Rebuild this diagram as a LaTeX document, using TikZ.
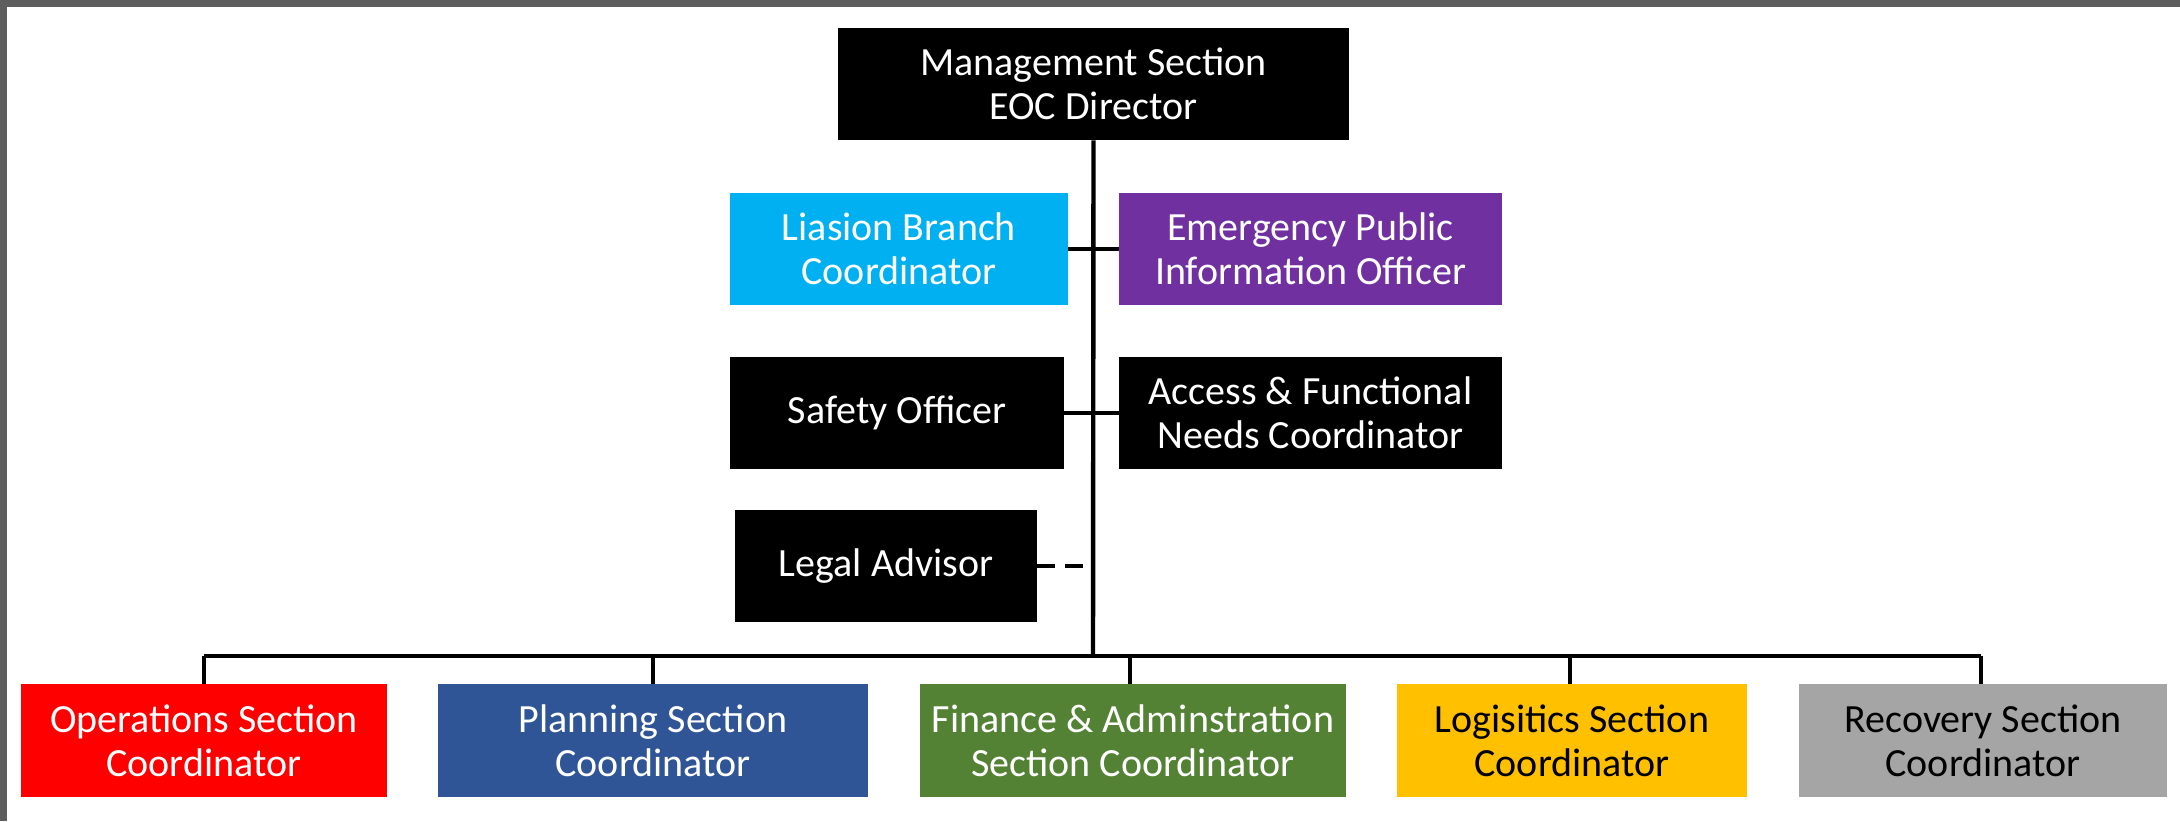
\documentclass[tikz,border=0pt]{standalone}
\usepackage{fontspec}
\setmainfont{Carlito}
\definecolor{frameg}{HTML}{5E5E5E}
\definecolor{cyanb}{HTML}{00B0F0}
\definecolor{purpb}{HTML}{7030A0}
\definecolor{redb}{HTML}{FF0000}
\definecolor{blueb}{HTML}{2F5597}
\definecolor{greenb}{HTML}{548235}
\definecolor{goldb}{HTML}{FFC000}
\definecolor{grayb}{HTML}{A5A5A5}
\tikzset{
  box/.style={rectangle, inner sep=0pt, align=center, text=white,
    font=\fontsize{20pt}{22pt}\selectfont, minimum height=56pt},
  link/.style={line width=1.8pt, black},
  trunk/.style={line width=2.2pt, black},
}
\begin{document}
\begin{tikzpicture}[x=0.5pt,y=-0.5pt]
\useasboundingbox (0,0) rectangle (2180,821);
\fill[white] (0,0) rectangle (2180,821);
\fill[frameg] (0,0) rectangle (2180,7);
\fill[frameg] (0,0) rectangle (7,821);

\node[box, fill=black, minimum width=255.5pt] (mgmt) at (1093.5,84) {Management Section\\EOC Director};
\node[box, fill=cyanb, minimum width=169pt] (liaison) at (899,249) {Liasion Branch\\Coordinator};
\node[box, fill=purpb, minimum width=191.5pt] (epio) at (1310.5,249) {Emergency Public\\Information Officer};
\node[box, fill=black, minimum width=167pt] (safety) at (897,413) {Safety Officer};
\node[box, fill=black, minimum width=191.5pt] (access) at (1310.5,413) {Access \& Functional\\Needs Coordinator};
\node[box, fill=black, minimum width=151pt] (legal) at (886,566) {Legal Advisor};

\node[box, fill=redb, minimum width=183pt, minimum height=56.5pt] (ops) at (204,740.5) {Operations Section\\Coordinator};
\node[box, fill=blueb, minimum width=215pt, minimum height=56.5pt] (plan) at (653,740.5) {Planning Section\\Coordinator};
\node[box, fill=greenb, minimum width=213pt, minimum height=56.5pt] (fin) at (1133,740.5) {Finance \& Adminstration\\Section Coordinator};
\node[box, fill=goldb, text=black, minimum width=175pt, minimum height=56.5pt] (log) at (1572,740.5) {Logisitics Section\\Coordinator};
\node[box, fill=grayb, text=black, minimum width=184pt, minimum height=56.5pt] (rec) at (1983,740.5) {Recovery Section\\Coordinator};

\coordinate (busL) at (204,656);
\coordinate (busR) at (1981,656);
\coordinate (busM) at (1093,656);
\coordinate (legalJ) at (1093,566);

\draw[trunk] (mgmt.south) -- (busM);
\draw[link] (liaison.east) -- (epio.west);
\draw[link] (safety.east) -- (access.west);
\draw[link, dash pattern=on 9pt off 5pt] (legal.east) -- (legalJ);
\draw[trunk] (busL) -- (busR);
\draw[link] (busL) -- (ops.north);
\draw[link] (plan.north |- busM) -- (plan.north);
\draw[link] (1130,656) -- (fin.north -| 1130,0);
\draw[link] (1570,656) -- (log.north -| 1570,0);
\draw[link] (busR) -- (rec.north -| busR);
\end{tikzpicture}
\end{document}
